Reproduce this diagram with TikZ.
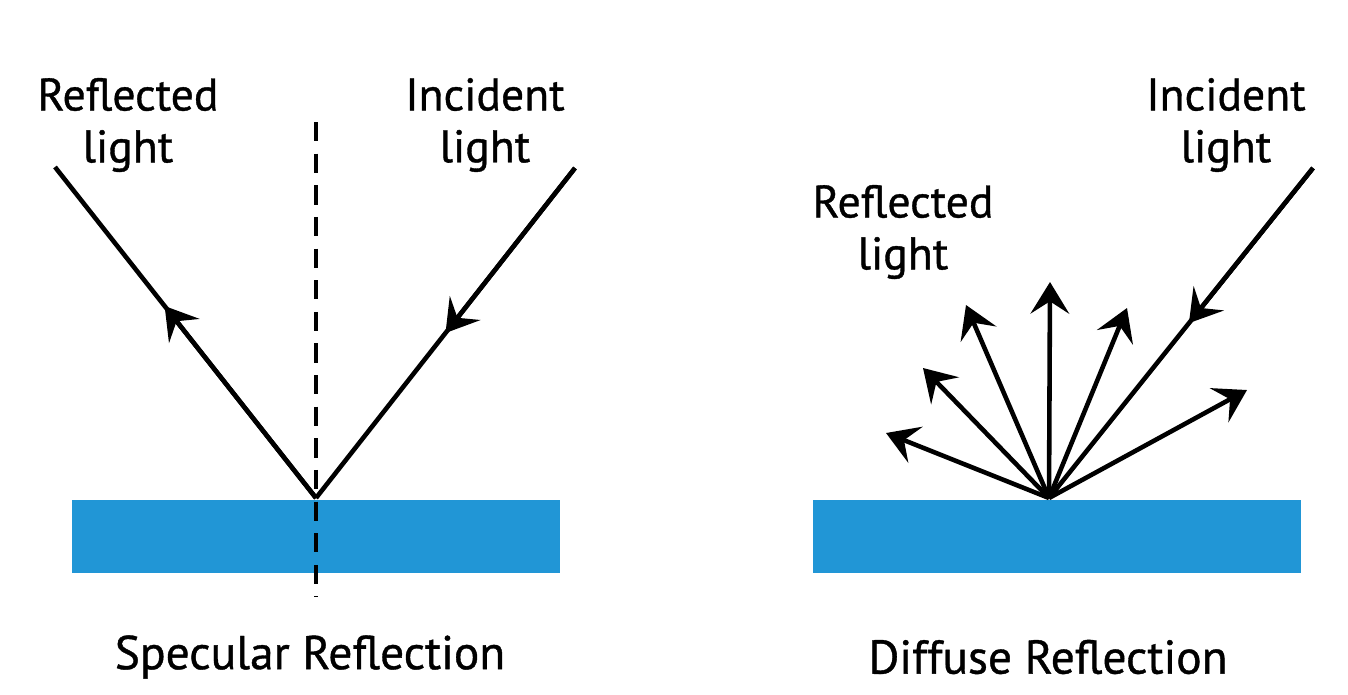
\documentclass[tikz,border=0pt]{standalone}
\usepackage{fontspec}
\setmainfont{PT Sans}
\newfontfamily\lfont{PT Sans}[FakeBold=0.8]
\usetikzlibrary{arrows.meta,calc}
\definecolor{surf}{RGB}{33,150,214}
\begin{document}
\begin{tikzpicture}[x=0.02cm,y=-0.02cm,
  ray/.style={line width=2.6pt},
  tip/.style={line width=2.6pt,-{Stealth[length=18pt,width=22pt,inset=7pt]}},
  lbl/.style={font=\lfont\fontsize{26}{29.5}\selectfont,align=center,inner sep=0pt},
  ttl/.style={font=\lfont\fontsize{27}{30}\selectfont,inner sep=0pt}]
\useasboundingbox (0,0) rectangle (1348,694);
% left
\fill[surf] (72,500) rectangle (560,573);
\coordinate (dtop) at (316,122);
\coordinate (dbot) at (316,597);
\draw[line width=1.8pt,dash pattern=on 11pt off 7pt] (dtop) -- (dbot);
\coordinate (p1) at (316,498);
\coordinate (r1) at (55,167);
\coordinate (i1) at (575,168);
\draw[ray] (p1) -- (r1);
\draw[tip] (p1) -- ($(p1)!0.58!(r1)$);
\draw[ray] (i1) -- (p1);
\draw[tip] (i1) -- ($(i1)!0.50!(p1)$);
\node[lbl] (lr) at (128,125) {Reflected\\light};
\node[lbl] (li) at (485,125) {Incident\\light};
\node[ttl] (ls) at (310,657) {Specular Reflection};
% right
\fill[surf] (813,500) rectangle (1301,573);
\coordinate (p2) at (1049,498);
\coordinate (i2) at (1313,168);
\draw[ray] (i2) -- (p2);
\draw[tip] (i2) -- ($(i2)!0.47!(p2)$);
\coordinate (a1) at (886,433);
\coordinate (a2) at (923,368);
\coordinate (a3) at (966,305);
\coordinate (a4) at (1050,282);
\coordinate (a5) at (1127,308);
\coordinate (a6) at (1247,390);
\foreach \a in {a1,a2,a3,a4,a5,a6} \draw[tip] (p2) -- (\a);
\node[lbl] (rr) at (903,232) {Reflected\\light};
\node[lbl] (ri) at (1226,125) {Incident\\light};
\node[ttl] (rs) at (1048,657) {Diffuse Reflection};
\end{tikzpicture}
\end{document}
